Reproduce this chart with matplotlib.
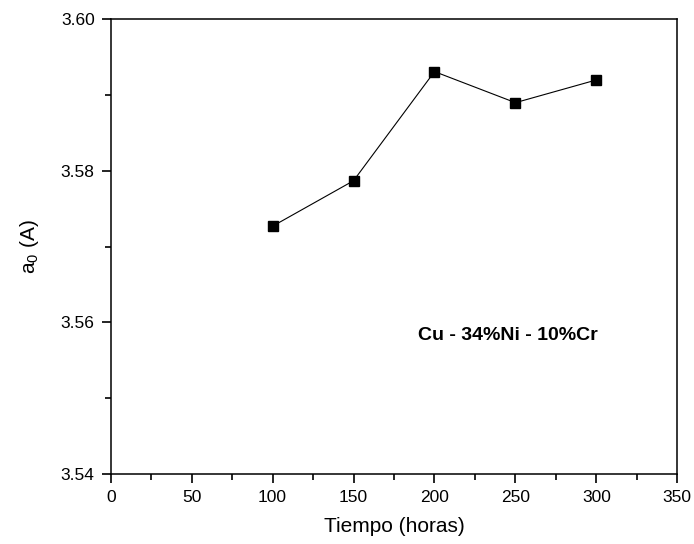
import matplotlib
matplotlib.use('Agg')
import matplotlib.pyplot as plt
from matplotlib.ticker import MultipleLocator

plt.rcParams['font.family'] = ['Liberation Sans', 'DejaVu Sans']
plt.rcParams['mathtext.fontset'] = 'custom'
plt.rcParams['mathtext.rm'] = 'Liberation Sans'
plt.rcParams['mathtext.it'] = 'Liberation Sans'

# tiempo de tratamiento y parámetro de red
tiempo = [100, 150, 200, 250, 300]
a0 = [3.5727, 3.5787, 3.5931, 3.5890, 3.5920]

fig = plt.figure(figsize=(6.94, 5.44), dpi=100)
ax = fig.add_axes([0.1595, 0.1287, 0.8165, 0.8358])

ax.plot(tiempo, a0, color='black', linewidth=0.8, marker='s',
        markersize=6.5, markerfacecolor='black', markeredgecolor='black')

ax.set_xlim(0, 350)
ax.set_ylim(3.54, 3.60)
ax.xaxis.set_major_locator(MultipleLocator(50))
ax.xaxis.set_minor_locator(MultipleLocator(25))
ax.yaxis.set_major_locator(MultipleLocator(0.02))
ax.yaxis.set_minor_locator(MultipleLocator(0.01))
ax.yaxis.set_major_formatter(plt.FormatStrFormatter('%.2f'))

ax.tick_params(which='both', direction='out', top=False, right=False,
               width=1.2, labelsize=12.5, pad=5)
ax.tick_params(which='major', length=6.5)
ax.tick_params(which='minor', length=4)
for s in ax.spines.values():
    s.set_linewidth(1.1)

ax.set_xlabel('Tiempo (horas)', fontsize=15, labelpad=9)
ax.set_ylabel('a$_0$ (A)', fontsize=15, labelpad=14)

ax.text(190, 3.5583, 'Cu - 34%Ni - 10%Cr', fontsize=14, fontweight='bold',
        va='center', ha='left')

fig.savefig('out.png', dpi=100)
